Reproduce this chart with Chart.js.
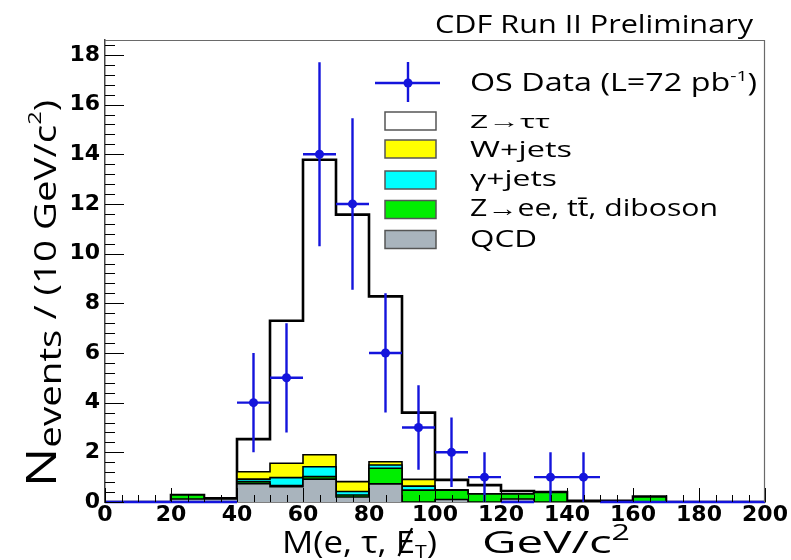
<!DOCTYPE html>
<html>
<head>
<meta charset="utf-8">
<script src="https://cdn.jsdelivr.net/npm/chart.js@4.4.1/dist/chart.umd.min.js"></script>
<style>
html,body{margin:0;padding:0;background:#fff;}
#wrap{width:791px;height:560px;}
</style>
</head>
<body>
<div id="wrap"><canvas id="c" width="791" height="560"></canvas></div>
<script>
// ---------------- data ----------------
const binLowEdges = [0,10,20,30,40,50,60,70,80,90,100,110,120,130,140,150,160,170,180,190];
const binWidth = 10;
const qcd       = [0,0,0.12,0.12,0.74,0.62,0.92,0.20,0.73,0,0.10,0,0.12,0,0,0,0,0,0,0];
const zOther    = [0,0,0.16,0,0.08,0.04,0.10,0.08,0.63,0.48,0.38,0.32,0.20,0.38,0.02,0.02,0.20,0,0,0];
const gammaJets = [0,0,0,0,0.10,0.32,0.40,0.14,0.13,0.16,0,0,0,0,0,0,0,0,0,0];
const wJets     = [0,0,0,0,0.30,0.58,0.48,0.40,0.13,0.27,0,0,0,0,0,0,0,0,0,0];
const zTauTau   = [0,0,0,0.03,1.31,5.74,11.88,10.75,6.66,2.69,0.41,0.36,0.12,0.02,0.03,0.03,0.02,0,0,0];
const dataCounts = [0,0,0,0,4,5,14,12,6,3,2,1,0,1,1,0,0,0,0,0];
const dataErrors = [0,0,0,0,2.0,2.2,3.7,3.45,2.4,1.7,1.4,1,0,1,1,0,0,0,0,0];
const xTickValues = [0,20,40,60,80,100,120,140,160,180,200];
const yTickValues = [0,2,4,6,8,10,12,14,16,18];
const stackLabels = ['QCD','Z\u2192ee, t\u0074\u0304, diboson','\u03b3+jets','W+jets','Z\u2192\u03c4\u03c4'];
const dataLabel = 'OS Data (L=72 pb';
const titleText = 'CDF Run II Preliminary';

// ---------------- styles ----------------
const stackColors = ['#a9b4bd','#00ee00','#00ffff','#ffff00','#ffffff'];
const dataBlue = '#1414dc';
const TXT = '"Open Sans", "Noto Sans", sans-serif';

const stackSeries = [qcd, zOther, gammaJets, wJets, zTauTau];
function toSteps(vals){
  const pts = binLowEdges.map((x,i)=>({x:x, y:vals[i]}));
  pts.push({x: binLowEdges[binLowEdges.length-1] + binWidth, y: vals[vals.length-1]});
  return pts;
}

const datasets = stackSeries.map((vals,i)=>({
  type:'line',
  label: stackLabels[i],
  data: toSteps(vals),
  stepped: 'before',
  fill: i === 0 ? 'origin' : '-1',
  backgroundColor: stackColors[i],
  borderColor: '#000',
  borderWidth: i === 4 ? 2.6 : 1.6,
  pointRadius: 0,
  tension: 0,
  stack: 'mc'
}));
datasets.push({
  type:'scatter',
  label: dataLabel,
  data: dataCounts.map((n,i)=>({x: binLowEdges[i] + binWidth/2, y: n})).filter(p=>p.y>0),
  pointRadius: 4.5,
  pointBackgroundColor: dataBlue,
  pointBorderWidth: 0,
  order: -1,
  stack: 'data'
});

// ---------------- rich text helper ----------------
function drawRich(ctx, parts, targetW){
  let w = 0;
  parts.forEach(p=>{ ctx.font = p.s + 'px ' + TXT; p.w = ctx.measureText(p.t).width; w += p.w; });
  const sx = targetW ? targetW / w : 1;
  ctx.save();
  ctx.scale(sx, 1);
  let cx = 0;
  parts.forEach(p=>{
    ctx.font = p.s + 'px ' + TXT;
    ctx.fillText(p.t, cx, p.dy || 0);
    if (p.slash){
      ctx.save(); ctx.lineWidth = 2; ctx.beginPath();
      ctx.moveTo(cx + p.w*0.15, (p.dy||0) + 3);
      ctx.lineTo(cx + p.w*0.85, (p.dy||0) - p.s*0.8);
      ctx.stroke(); ctx.restore();
    }
    cx += p.w;
  });
  ctx.restore();
}

// ---------------- plugins ----------------
const errorBars = {
  id:'errorBars',
  beforeDatasetDraw(chart, args){
    if (args.meta.type !== 'scatter') return;
    const {ctx, scales:{x,y}} = chart;
    ctx.save();
    ctx.strokeStyle = dataBlue; ctx.lineWidth = 2.4; ctx.beginPath();
    dataCounts.forEach((n,i)=>{
      const x0 = x.getPixelForValue(binLowEdges[i]);
      const x1 = x.getPixelForValue(binLowEdges[i] + binWidth);
      const yc = y.getPixelForValue(n);
      ctx.moveTo(x0, yc); ctx.lineTo(x1, yc);
      if (dataErrors[i] > 0){
        const xc = (x0 + x1)/2;
        ctx.moveTo(xc, y.getPixelForValue(n - dataErrors[i]));
        ctx.lineTo(xc, y.getPixelForValue(n + dataErrors[i]));
      }
    });
    ctx.stroke(); ctx.restore();
  }
};

const frameTicks = {
  id:'frameTicks',
  afterDatasetsDraw(chart){
    const {ctx, chartArea:a, scales:{x,y}} = chart;
    ctx.save();
    ctx.strokeStyle = '#000'; ctx.lineWidth = 1; ctx.beginPath();
    for (let v = x.min; v <= x.max + 1e-6; v += 5){
      const px = Math.round(x.getPixelForValue(v)) + 0.5;
      const major = xTickValues.some(t=>Math.abs(t-v) < 1e-6);
      ctx.moveTo(px, a.bottom); ctx.lineTo(px, a.bottom - (major ? 14 : 7));
    }
    for (let v = y.min; v <= y.max + 1e-6; v += 0.4){
      const py = Math.round(y.getPixelForValue(v)) + 0.5;
      const major = yTickValues.some(t=>Math.abs(t-v) < 1e-6);
      ctx.moveTo(a.left, py); ctx.lineTo(a.left + (major ? 19 : 10), py);
    }
    ctx.stroke();
    // frame
    ctx.strokeStyle = '#6a6a6a'; ctx.lineWidth = 1.2; ctx.beginPath();
    ctx.moveTo(a.left, a.top + 0.5); ctx.lineTo(a.right - 0.5, a.top + 0.5); ctx.lineTo(a.right - 0.5, a.bottom);
    ctx.stroke();
    ctx.restore();
  }
};

const texts = {
  id:'texts',
  afterDraw(chart){
    const {ctx} = chart;
    ctx.save();
    ctx.fillStyle = '#000'; ctx.strokeStyle = '#000'; ctx.textBaseline = 'alphabetic';
    // title
    ctx.save(); ctx.translate(435, 33);
    drawRich(ctx, [{t:titleText, s:25}], 318);
    ctx.restore();
    // legend: data entry
    ctx.save();
    ctx.strokeStyle = dataBlue; ctx.lineWidth = 2.4; ctx.beginPath();
    ctx.moveTo(375, 83); ctx.lineTo(440, 83);
    ctx.moveTo(408, 62); ctx.lineTo(408, 102);
    ctx.stroke();
    ctx.fillStyle = dataBlue; ctx.beginPath(); ctx.arc(408, 83, 4.5, 0, Math.PI*2); ctx.fill();
    ctx.restore();
    ctx.save(); ctx.translate(470, 91);
    drawRich(ctx, [{t:dataLabel, s:25},{t:'-1', s:15, dy:-10},{t:')', s:25}], 287);
    ctx.restore();
    // legend boxes (top to bottom: Ztautau, W, gamma, Zother, QCD)
    const rows = [
      {i:4, yc:121, base:128, s:19, w:80},
      {i:3, yc:149, base:157, s:22, w:102},
      {i:2, yc:180, base:186, s:22, w:87},
      {i:1, yc:209.5, base:216, s:23, w:248},
      {i:0, yc:239.5, base:247, s:24, w:67}
    ];
    rows.forEach(r=>{
      ctx.fillStyle = stackColors[r.i];
      ctx.fillRect(385, r.yc - 9, 51, 18);
      ctx.strokeStyle = '#555'; ctx.lineWidth = 1.5;
      ctx.strokeRect(385, r.yc - 9, 51, 18);
      ctx.fillStyle = '#000';
      ctx.save(); ctx.translate(470, r.base);
      drawRich(ctx, [{t:stackLabels[r.i], s:r.s}], r.w);
      ctx.restore();
    });
    // x title
    ctx.fillStyle = '#000'; ctx.strokeStyle = '#000';
    ctx.save(); ctx.translate(282, 553);
    drawRich(ctx, [{t:'M(e, \u03c4, ', s:31},{t:'E', s:31, slash:true},{t:'T', s:19, dy:5},{t:')', s:31}], 155);
    ctx.restore();
    ctx.save(); ctx.translate(482, 553);
    drawRich(ctx, [{t:'GeV/c', s:31},{t:'2', s:21, dy:-13}], 148);
    ctx.restore();
    // y title
    ctx.save(); ctx.translate(56, 487); ctx.rotate(-Math.PI/2);
    drawRich(ctx, [{t:'N', s:42},{t:'events', s:31, dy:5},{t:' / (10 GeV/c', s:31},{t:'2', s:19, dy:-15},{t:')', s:31}], 387);
    ctx.restore();
    ctx.restore();
  }
};

// ---------------- chart ----------------
const tickFont = {family:'"DejaVu Sans", sans-serif', size:22, weight:'bold'};
new Chart(document.getElementById('c'), {
  type:'line',
  data:{datasets: datasets},
  options:{
    responsive:false,
    devicePixelRatio:1,
    animation:false,
    layout:{padding:{left:0, right:26, top:40, bottom:0}},
    plugins:{legend:{display:false}, tooltip:{enabled:false}, title:{display:false}},
    scales:{
      x:{
        type:'linear', min:0, max:200,
        afterBuildTicks(s){ s.ticks = xTickValues.map(v=>({value:v})); },
        afterFit(s){ s.height = 58; },
        ticks:{font:tickFont, color:'#000', padding:0, maxRotation:0, autoSkip:false},
        grid:{display:true, drawOnChartArea:false, drawTicks:false},
        border:{display:true, color:'#000', width:1.5}
      },
      y:{
        type:'linear', min:0, max:18.6, stacked:true,
        afterBuildTicks(s){ s.ticks = yTickValues.map(v=>({value:v})); },
        afterFit(s){ s.width = 105; },
        ticks:{font:tickFont, color:'#000', padding:5, autoSkip:false},
        grid:{display:true, drawOnChartArea:false, drawTicks:false},
        border:{display:true, color:'#444', width:1.5}
      }
    }
  },
  plugins:[errorBars, frameTicks, texts]
});
</script>
</body>
</html>
